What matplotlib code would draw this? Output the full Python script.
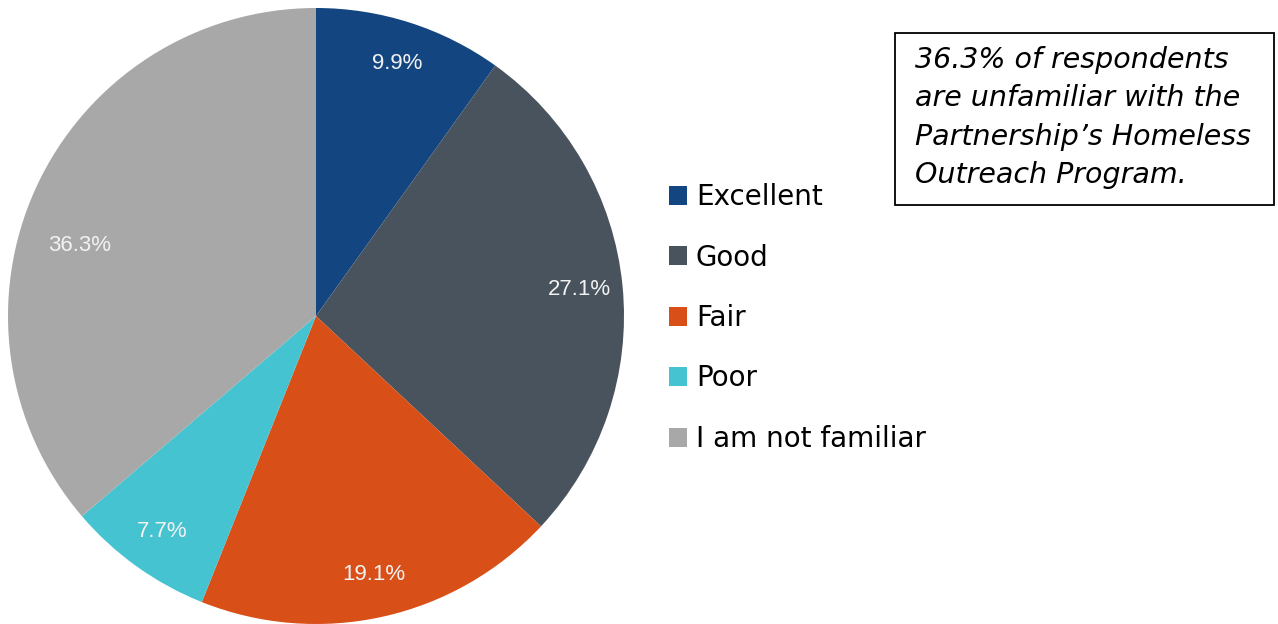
import numpy as np
import matplotlib.pyplot as plt
from matplotlib.patches import Rectangle

plt.rcParams['font.family'] = ['DejaVu Sans']

categories = ['Excellent', 'Good', 'Fair', 'Poor', 'I am not familiar']
shares = [9.9, 27.1, 19.1, 7.7, 36.3]
colors = ['#134580', '#48535D', '#D84F18', '#46C3D0', '#A8A8A8']
callout = ("36.3% of respondents\nare unfamiliar with the\n"
           "Partnership\u2019s Homeless\nOutreach Program.")

figsize_px = np.array([1278, 624])
dpi = 100
fig = plt.figure(figsize=figsize_px / dpi, dpi=dpi)

ax = fig.add_axes([8 / 1278, 0, 616 / 1278, 616 / 624])
wedges, texts, autotexts = ax.pie(shares, colors=colors, startangle=90, counterclock=False,
                                  autopct=lambda p: '%.1f%%' % p, pctdistance=0.86,
                                  wedgeprops=dict(linewidth=0),
                                  textprops=dict(color='#F2F2F2', fontsize=16,
                                                 family='Liberation Sans'))
ax.set_xlim(-1, 1)
ax.set_ylim(-1, 1)
ax.set_aspect('equal')

# the big grey slice has its label nudged toward the upper edge, as in the original
w = wedges[4]
ang = np.deg2rad((w.theta1 + w.theta2) / 2 + 8)
autotexts[4].set_position((0.8 * np.cos(ang), 0.8 * np.sin(ang)))

leg = fig.legend(wedges, categories, loc='upper left', bbox_to_anchor=(644 / 1278, 1 - 158 / 624),
                 frameon=False, fontsize=20, handlelength=0.65, handleheight=0.65,
                 handletextpad=0.32, labelspacing=1.17)

# callout box
fig.patches.append(Rectangle((895 / 1278, 1 - 205 / 624), 379 / 1278, 172 / 624,
                             transform=fig.transFigure, facecolor='white',
                             edgecolor='black', linewidth=1.3))
fig.text(915 / 1278, 1 - 46 / 624, callout, ha='left', va='top', fontsize=20.5, style='italic',
         linespacing=1.47)

fig.savefig('out.png', dpi=dpi)
